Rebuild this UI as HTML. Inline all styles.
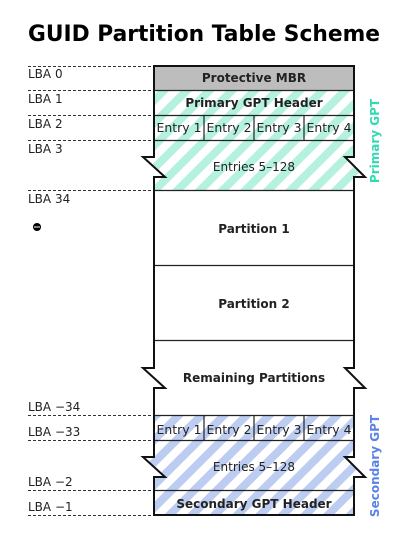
<!DOCTYPE html>
<html><head><meta charset="utf-8"><style>
html,body{margin:0;padding:0;background:#fff;}
svg{display:block;font-family:"DejaVu Sans","Liberation Sans",sans-serif;}
</style></head><body>
<svg width="409" height="549" viewBox="0 0 409 549">
<defs>
<pattern id="tg" patternUnits="userSpaceOnUse" width="16" height="16" patternTransform="rotate(45)">
<rect width="16" height="16" fill="#fff"/><rect width="8" height="16" fill="#b5f1df"/></pattern>
<pattern id="bl" patternUnits="userSpaceOnUse" width="16" height="16" patternTransform="rotate(45)">
<rect width="16" height="16" fill="#fff"/><rect width="8" height="16" fill="#bccdf1"/></pattern>
<clipPath id="cp"><path id="outl" d="M154,66 L354,66 L354,157 L345,157 L365,177 L354,177 L354,368 L345,368 L365,388 L354,388 L354,457 L345,457 L365,477 L354,477 L354,515 L154,515 L154,477 L165,477 L143,457 L154,457 L154,388 L165,388 L143,368 L154,368 L154,177 L165,177 L143,157 L154,157 Z"/></clipPath>
</defs>
<text x="28" y="41" font-size="22" font-weight="bold" textLength="352" lengthAdjust="spacingAndGlyphs">GUID Partition Table Scheme</text>
<g stroke="#333" stroke-dasharray="3,2" stroke-width="1">
<line x1="28" y1="66.5" x2="154" y2="66.5"/><line x1="28" y1="90.5" x2="154" y2="90.5"/>
<line x1="28" y1="115.5" x2="154" y2="115.5"/><line x1="28" y1="140.5" x2="154" y2="140.5"/>
<line x1="28" y1="190.5" x2="154" y2="190.5"/><line x1="28" y1="415.5" x2="154" y2="415.5"/>
<line x1="28" y1="440.5" x2="154" y2="440.5"/><line x1="28" y1="490.5" x2="154" y2="490.5"/>
<line x1="28" y1="515.5" x2="154" y2="515.5"/>
</g>
<g font-size="12" fill="#222">
<text x="28" y="78">LBA 0</text><text x="28" y="103">LBA 1</text><text x="28" y="128">LBA 2</text>
<text x="28" y="153">LBA 3</text><text x="28" y="203">LBA 34</text><text x="28" y="411">LBA −34</text>
<text x="28" y="436">LBA −33</text><text x="28" y="486">LBA −2</text><text x="28" y="511">LBA −1</text>
</g>
<circle cx="37" cy="227" r="4" fill="#000"/><line x1="34" y1="227" x2="40" y2="227" stroke="#fff" stroke-width="1"/>
<g clip-path="url(#cp)">
<rect x="130" y="60" width="250" height="470" fill="#fff"/>
<rect x="130" y="66" width="250" height="24" fill="#bdbdbd"/>
<rect x="130" y="90" width="250" height="100" fill="url(#tg)"/>
<rect x="130" y="415" width="250" height="100" fill="url(#bl)"/>
</g>
<g stroke="#222" stroke-width="1.2" fill="none">
<line x1="154" y1="90.5" x2="354" y2="90.5"/><line x1="154" y1="115.5" x2="354" y2="115.5"/>
<line x1="154" y1="140.5" x2="354" y2="140.5"/><line x1="154" y1="190.5" x2="354" y2="190.5"/>
<line x1="154" y1="265.5" x2="354" y2="265.5"/><line x1="154" y1="340.5" x2="354" y2="340.5"/>
<line x1="154" y1="415.5" x2="354" y2="415.5"/><line x1="154" y1="440.5" x2="354" y2="440.5"/>
<line x1="154" y1="490.5" x2="354" y2="490.5"/>
<line x1="204" y1="115" x2="204" y2="140"/><line x1="254" y1="115" x2="254" y2="140"/><line x1="304" y1="115" x2="304" y2="140"/>
<line x1="204" y1="415" x2="204" y2="440"/><line x1="254" y1="415" x2="254" y2="440"/><line x1="304" y1="415" x2="304" y2="440"/>
</g>
<use href="#outl" fill="none" stroke="#111" stroke-width="2"/>
<g font-size="12" fill="#222" text-anchor="middle">
<text x="254" y="82" font-weight="bold">Protective MBR</text>
<text x="254" y="107" font-weight="bold">Primary GPT Header</text>
<text x="179" y="132" textLength="45" lengthAdjust="spacingAndGlyphs">Entry 1</text><text x="229" y="132" textLength="45" lengthAdjust="spacingAndGlyphs">Entry 2</text><text x="279" y="132" textLength="45" lengthAdjust="spacingAndGlyphs">Entry 3</text><text x="329" y="132" textLength="45" lengthAdjust="spacingAndGlyphs">Entry 4</text>
<text x="254" y="171">Entries 5–128</text>
<text x="254" y="233" font-weight="bold">Partition 1</text>
<text x="254" y="308" font-weight="bold">Partition 2</text>
<text x="254" y="382" font-weight="bold">Remaining Partitions</text>
<text x="179" y="434" textLength="45" lengthAdjust="spacingAndGlyphs">Entry 1</text><text x="229" y="434" textLength="45" lengthAdjust="spacingAndGlyphs">Entry 2</text><text x="279" y="434" textLength="45" lengthAdjust="spacingAndGlyphs">Entry 3</text><text x="329" y="434" textLength="45" lengthAdjust="spacingAndGlyphs">Entry 4</text>
<text x="254" y="471">Entries 5–128</text>
<text x="254" y="508" font-weight="bold">Secondary GPT Header</text>
</g>
<text transform="translate(379,141) rotate(-90)" text-anchor="middle" font-size="12" font-weight="bold" fill="#33d9b2">Primary GPT</text>
<text transform="translate(379,466) rotate(-90)" text-anchor="middle" font-size="12" font-weight="bold" fill="#5b82e6">Secondary GPT</text>
</svg>
</body></html>
